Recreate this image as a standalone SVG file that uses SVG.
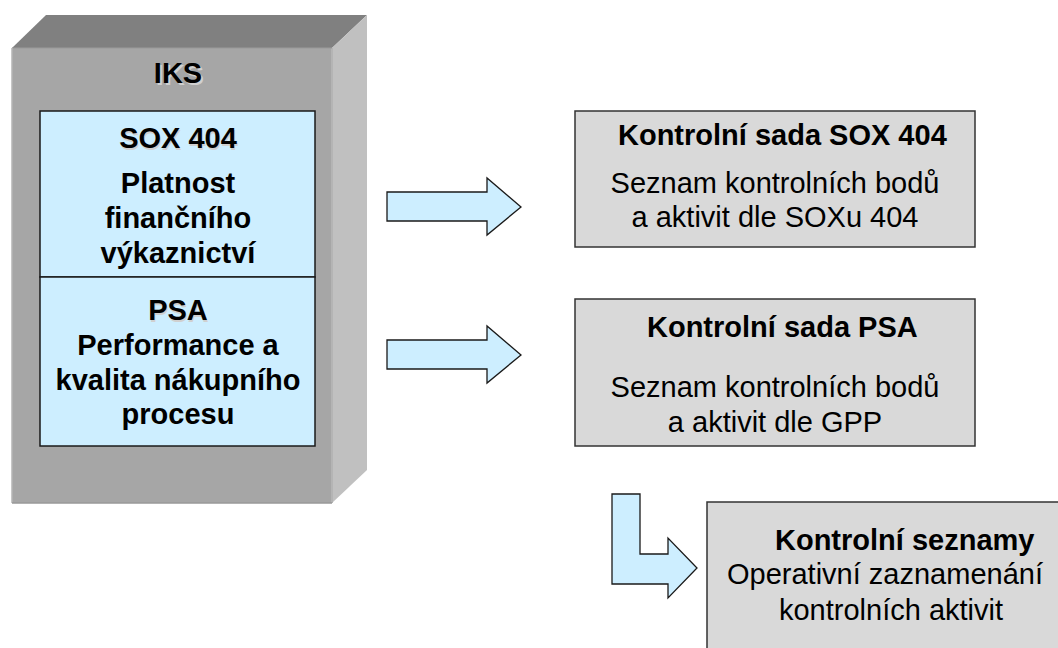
<svg xmlns="http://www.w3.org/2000/svg" width="1058" height="648" viewBox="0 0 1058 648">
  <style>
    text { font-family: "Liberation Sans", Arial, sans-serif; font-size: 29px; fill: #000; }
    .b { font-weight: bold; }
    .c { text-anchor: middle; }
    .sh { fill: #d0d0d0; }
    .panel { fill: #cdeeff; stroke: #1a1a1a; stroke-width: 1.5; }
    .box { fill: #d9d9d9; stroke: #333; stroke-width: 1.5; }
    .arrow { fill: #cdeeff; stroke: #1a1a1a; stroke-width: 1.3; stroke-linejoin: miter; }
  </style>

  <!-- IKS block drawn as a 3D box -->
  <g id="iks">
    <polygon points="12,48 46,15 367,15 332,48" fill="#808080"/>
    <polygon points="332,48 367,15 367,470 332,503" fill="#c0c0c0"/>
    <rect x="12" y="48" width="320" height="455" fill="#a6a6a6"/>
    <line x1="332" y1="48" x2="332" y2="503" stroke="#b4b4b4" stroke-width="2"/>
    <line x1="12" y1="48" x2="332" y2="48" stroke="#9a9a9a" stroke-width="1"/>
    <line x1="12" y1="48" x2="12" y2="503" stroke="#b4b4b4" stroke-width="1.5"/>
    <line x1="12" y1="503" x2="332" y2="503" stroke="#999" stroke-width="1.5"/>
    <text class="b c sh" x="180" y="85">IKS</text>
    <text class="b c" x="178" y="83">IKS</text>
  </g>

  <g id="sox404">
    <rect class="panel" x="40" y="111" width="275" height="166"/>
    <text class="b c sh" x="179" y="150">SOX 404</text>
    <text class="b c" x="178" y="148">SOX 404</text>
    <text class="b c" x="178" y="193">Platnost</text>
    <text class="b c" x="178" y="228">finančního</text>
    <text class="b c" x="178" y="263">výkaznictví</text>
  </g>

  <g id="psa">
    <rect class="panel" x="40" y="277" width="275" height="169"/>
    <text class="b c sh" x="179" y="322">PSA</text>
    <text class="b c" x="178" y="320">PSA</text>
    <text class="b c" x="178" y="355">Performance a</text>
    <text class="b c" x="178" y="390">kvalita nákupního</text>
    <text class="b c" x="178" y="424">procesu</text>
  </g>

  <!-- block arrows -->
  <g id="connectors">
    <polygon class="arrow" points="387,192 487,192 487,178 521,207 487,235 487,221 387,221"/>
    <polygon class="arrow" points="387,340 487,340 487,326 521,355 487,383 487,369 387,369"/>
    <polygon class="arrow" points="612,494 640,494 640,554 668,554 668,538 697,568 668,598 668,584 612,584"/>
  </g>

  <g id="kontrolni-sada-sox">
    <rect class="box" x="575" y="111" width="400" height="136"/>
    <text class="b" x="618" y="145">Kontrolní sada SOX 404</text>
    <text class="c" x="775" y="193">Seznam kontrolních bodů</text>
    <text class="c" x="775" y="227">a aktivit dle SOXu 404</text>
  </g>

  <g id="kontrolni-sada-psa">
    <rect class="box" x="575" y="299" width="400" height="147"/>
    <text class="b" x="647" y="337">Kontrolní sada PSA</text>
    <text class="c" x="775" y="397">Seznam kontrolních bodů</text>
    <text class="c" x="775" y="432">a aktivit dle GPP</text>
  </g>

  <g id="kontrolni-seznamy">
    <rect class="box" x="707" y="502" width="380" height="180"/>
    <text class="b" x="775" y="550">Kontrolní seznamy</text>
    <text class="c" x="885" y="584">Operativní zaznamenání</text>
    <text class="c" x="891" y="620">kontrolních aktivit</text>
  </g>
</svg>
